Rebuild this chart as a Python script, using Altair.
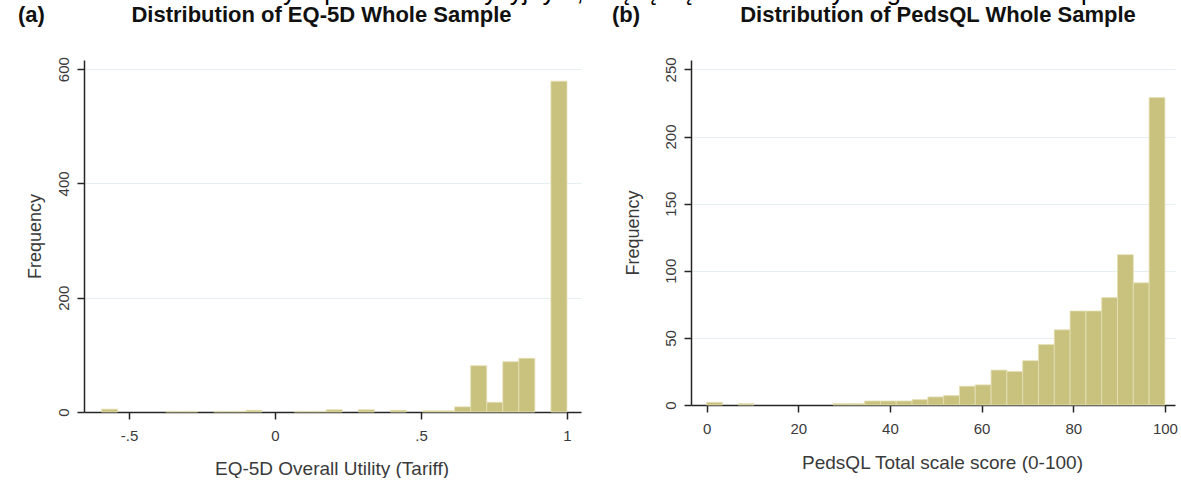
import altair as alt
import pandas as pd

# ---------------- data ----------------
# (a) EQ-5D overall utility (tariff): 29 equal-width bins from -0.594 to 1.0
eq_min, eq_max = -0.594, 1.0
eq_counts = [5, 0, 0, 0, 1, 1, 0, 1, 1, 3, 0, 0, 1, 1, 4, 0, 4, 0, 3, 0,
             2, 2, 9, 81, 17, 88, 94, 0, 579]
eq_xticks = [-0.5, 0, 0.5, 1]
eq_yticks = [0, 200, 400, 600]

# (b) PedsQL total scale score: 29 equal-width bins from 0 to 100
pq_min, pq_max = 0.0, 100.0
pq_counts = [2, 0, 1, 0, 0, 0, 0, 0, 1, 1, 3, 3, 3, 4, 6, 7, 14, 15, 26, 25,
             33, 45, 56, 70, 70, 80, 112, 91, 229]
pq_xticks = [0, 20, 40, 60, 80, 100]
pq_yticks = [0, 50, 100, 150, 200, 250]

titles = ["Distribution of  EQ-5D Whole Sample", "Distribution of PedsQL Whole Sample"]
tags = ["(a)", "(b)"]
xtitles = ["EQ-5D Overall Utility (Tariff)", "PedsQL Total scale score (0-100)"]
header = ["w analizowanym problemie decyzyjnym, wiążą się z dodatkowym ograniczeniem mapowania"]

FONT = "Liberation Sans"
BAR = "#C9C27E"
BAR_EDGE = "#E4E0B6"
AXIS = "#262626"
TXT = "#3a3a3a"
GRID = "#E6EFF1"


def bins_df(lo, hi, counts):
    k = len(counts)
    w = (hi - lo) / k
    rows = [{"start": lo + i * w, "end": lo + (i + 1) * w, "count": c}
            for i, c in enumerate(counts) if c > 0]
    return pd.DataFrame(rows)


def panel(df, xdom, ydom, xticks, yticks, xtitle, w, h, label_expr, title,
          tag, ytitle_x, xtitle_y, xtitle_dx, title_dx, tag_x, extra=None):
    xaxis = alt.Axis(values=xticks, grid=False, labelExpr=label_expr,
                     labelAngle=0, labelFont=FONT, labelFontSize=15,
                     labelColor=TXT, labelPadding=9, tickSize=7, tickWidth=1.5,
                     tickColor=AXIS, domainColor=AXIS, domainWidth=1.5,
                     title=xtitle, titleFont=FONT, titleFontSize=19,
                     titleFontWeight="normal", titleColor=TXT,
                     titleBaseline="alphabetic", titleY=xtitle_y,
                     titleX=w / 2 + xtitle_dx, titleAlign="center")
    yaxis = alt.Axis(values=yticks, grid=True, gridColor=GRID, gridWidth=1.2,
                     labelAngle=270, labelAlign="center",
                     labelBaseline="alphabetic", labelFont=FONT,
                     labelFontSize=15, labelColor=TXT, labelPadding=9,
                     tickSize=7, tickWidth=1.5, tickColor=AXIS,
                     domainColor=AXIS, domainWidth=1.5,
                     title="Frequency", titleFont=FONT, titleFontSize=18,
                     titleFontWeight="normal", titleColor=TXT, titleAngle=270,
                     titleAlign="center", titleBaseline="alphabetic",
                     titleX=ytitle_x, titleY=h / 2)
    bars = alt.Chart(df).mark_bar(color=BAR, stroke=BAR_EDGE,
                                  strokeWidth=0.8).encode(
        x=alt.X("start:Q", scale=alt.Scale(domain=xdom, nice=False, zero=False),
                axis=xaxis),
        x2="end:Q",
        y=alt.Y("count:Q", scale=alt.Scale(domain=ydom, nice=False),
                axis=yaxis),
        y2=alt.datum(0),
    )
    tag_text = alt.Chart(pd.DataFrame({"t": [tag]})).mark_text(
        align="left", baseline="alphabetic", font=FONT, fontSize=22,
        fontWeight="bold", color="#111111").encode(
        text="t:N", x=alt.value(tag_x), y=alt.value(-38))
    title_text = alt.Chart(pd.DataFrame({"t": [title]})).mark_text(
        align="center", baseline="alphabetic", font=FONT, fontSize=22,
        fontWeight="bold", color="#111111").encode(
        text="t:N", x=alt.value(w / 2 + title_dx), y=alt.value(-38))
    layers = [bars, tag_text, title_text]
    if extra is not None:
        layers.append(extra)
    return alt.layer(*layers).properties(width=w, height=h)


# running text of the page above the figure, mostly cut off by the top edge
header_text = alt.Chart(pd.DataFrame({"t": header})).mark_text(
    align="left", baseline="alphabetic", font=FONT, fontSize=25.5,
    color="#000000").encode(text="t:N", x=alt.value(46), y=alt.value(-60))

left = panel(bins_df(eq_min, eq_max, eq_counts), [-0.654, 1.048], [0, 616],
             eq_xticks, eq_yticks, xtitles[0], 497, 352,
             "datum.value == 0 ? '0' : (datum.value < 0 ? '-' : '') + "
             "replace(format(abs(datum.value), '.1~f'), '0.', '.')",
             titles[0], tags[0], -44, 62, -1, -11, -66, header_text)
right = panel(bins_df(pq_min, pq_max, pq_counts), [-3.4, 102.2], [0, 257],
              pq_xticks, pq_yticks, xtitles[1], 484, 345,
              "format(datum.value, 'd')",
              titles[1], tags[1], -53, 63, 9, 5, -79)

chart = alt.hconcat(left, right, spacing=110, bounds="flush").properties(
    padding={"left": 18, "top": -20, "right": 0, "bottom": 0},
    background="white",
).configure_view(strokeWidth=0)

chart.save("out.html", embed_options={"renderer": "svg", "actions": False})
